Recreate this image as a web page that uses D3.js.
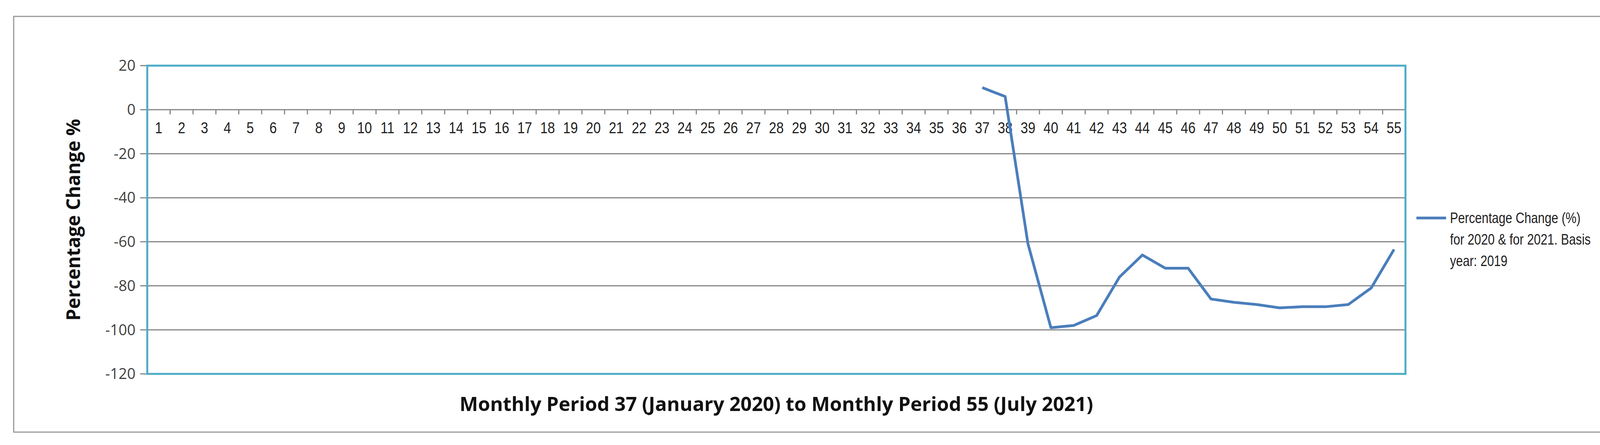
<!DOCTYPE html>
<html><head><meta charset="utf-8">
<script src="https://cdn.jsdelivr.net/npm/d3@7"></script>
<style>body{margin:0;background:#fff}</style>
</head><body>
<script>
const periods = d3.range(1, 56);
const seriesPeriods = [37,38,39,40,41,42,43,44,45,46,47,48,49,50,51,52,53,54,55];
const seriesValues = [10,6,-61,-99,-98,-93.5,-76,-66,-72,-72,-86,-87.5,-88.5,-90,-89.5,-89.5,-88.5,-81,-63.5];
const yTicks = [20,0,-20,-40,-60,-80,-100,-120];
const legendLines = ["Percentage Change (%)", "for 2020 & for 2021. Basis", "year: 2019"];

const W = 4314, H = 1139;
const L = 377, R = 3598, T = 168, B = 957;
const svg = d3.select("body").append("svg").attr("width", W).attr("height", H);
svg.append("rect").attr("x", 35).attr("y", 42).attr("width", 4237).attr("height", 1064)
  .attr("fill", "#fff").attr("stroke", "#999").attr("stroke-width", 3);

const x = d3.scaleBand().domain(periods).range([L, R]);
const y = d3.scaleLinear().domain([-120, 20]).range([B, T]);

// gridlines
svg.selectAll(".grid").data(yTicks).enter().append("line")
  .attr("x1", L - 18).attr("x2", R).attr("y1", d => y(d)).attr("y2", d => y(d))
  .attr("stroke", "#868686").attr("stroke-width", 3);
svg.selectAll(".ylab").data(yTicks).enter().append("text")
  .attr("x", L - 30).attr("y", d => y(d)).attr("dy", "0.35em").attr("text-anchor", "end")
  .attr("font-family", "Open Sans").attr("font-size", 38).attr("fill", "#404040").text(d => d);

// category ticks on zero line
svg.selectAll(".xt").data(periods).enter().append("line")
  .attr("x1", d => x(d) + x.bandwidth()).attr("x2", d => x(d) + x.bandwidth())
  .attr("y1", y(0)).attr("y2", y(0) + 12).attr("stroke", "#868686").attr("stroke-width", 3);
svg.selectAll(".xl").data(periods).enter().append("text")
  .attr("transform", d => `translate(${x(d) + x.bandwidth() / 2},${y(0) + 60}) scale(0.85,1)`)
  .attr("text-anchor", "middle")
  .attr("font-family", "Liberation Sans, sans-serif").attr("font-size", 40)
  .attr("fill", "#222").text(d => d);

// plot border
svg.append("rect").attr("x", L).attr("y", T).attr("width", R - L).attr("height", B - T)
  .attr("fill", "none").attr("stroke", "#4bacc6").attr("stroke-width", 5);

const pts = seriesPeriods.map((p, i) => [x(p) + x.bandwidth() / 2, y(seriesValues[i])]);
svg.append("path").attr("d", d3.line()(pts)).attr("fill", "none")
  .attr("stroke", "#4a7ebb").attr("stroke-width", 7).attr("stroke-linejoin", "round");

// axis titles
svg.append("text").attr("transform", `translate(205,${(T + B) / 2}) rotate(-90)`)
  .attr("text-anchor", "middle").attr("font-family", "Open Sans").attr("font-weight", "bold")
  .attr("font-size", 48).attr("fill", "#111").text("Percentage Change %");
svg.append("text").attr("x", (L + R) / 2).attr("y", 1052).attr("text-anchor", "middle")
  .attr("font-family", "Open Sans").attr("font-weight", "bold").attr("font-size", 50)
  .attr("fill", "#111").text("Monthly Period 37 (January 2020) to Monthly Period 55 (July 2021)");

// legend
svg.append("line").attr("x1", 3626).attr("x2", 3702).attr("y1", 558).attr("y2", 558)
  .attr("stroke", "#4a7ebb").attr("stroke-width", 7);
svg.selectAll(".leg").data(legendLines).enter().append("text")
  .attr("transform", (d, i) => `translate(3712,${558 + i * 55}) scale(0.82,1)`).attr("dy", "0.35em")
  .attr("font-family", "Liberation Sans, sans-serif").attr("font-size", 38)
  .attr("fill", "#222").text(d => d);
</script>
</body></html>
